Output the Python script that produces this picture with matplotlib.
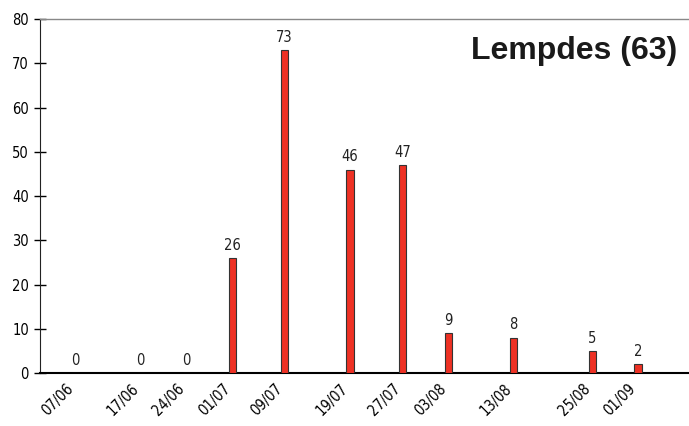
import numpy as np
import pandas as pd
import matplotlib.pyplot as plt

plt.rcParams['font.family'] = ['DejaVu Sans']
plt.rcParams['font.stretch'] = 'condensed'

# Données : relevés Lempdes (63)
dates  = ['2003-06-07', '2003-06-17', '2003-06-24', '2003-07-01', '2003-07-09', '2003-07-19',
          '2003-07-27', '2003-08-03', '2003-08-13', '2003-08-25', '2003-09-01']
values = [0, 0, 0, 26, 73, 46, 47, 9, 8, 5, 2]
labels = ['07/06', '17/06', '24/06', '01/07', '09/07', '19/07',
          '27/07', '03/08', '13/08', '25/08', '01/09']
title  = 'Lempdes (63)'

x = pd.to_datetime(dates)

fig = plt.figure(figsize=(6.89, 4.26), dpi=100)
ax = fig.add_axes([0.058, 0.1244, 0.942, 0.8306])

ax.bar(x, values, width=1.1, color='#ee3124', edgecolor='#333333', linewidth=0.8, zorder=3)
for xi, v in zip(x, values):
    ax.text(xi, v + 1.2, str(v), ha='center', va='bottom', fontsize=10.5, color='#222222')

ax.set_xlim(pd.Timestamp('2003-06-01 15:00'), pd.Timestamp('2003-09-08 19:00'))
ax.set_ylim(0, 80)
ax.set_yticks(np.arange(0, 81, 10))
# étiquettes légèrement décalées à gauche des barres, comme l'original
ax.set_xticks(x - pd.Timedelta(hours=36))
ax.set_xticklabels(labels, rotation=45, ha='right', rotation_mode='anchor', fontsize=10.5)
ax.tick_params(axis='x', length=0, pad=6)
ax.tick_params(axis='y', direction='inout', length=8, width=1, labelsize=10.5, pad=4)

ax.spines['right'].set_visible(False)
ax.spines['top'].set_color('#888888')
ax.spines['top'].set_linewidth(1)
ax.spines['left'].set_color('#222222')
ax.spines['bottom'].set_color('#000000')
ax.spines['bottom'].set_linewidth(1.5)

ax.text(0.982, 0.91, title, transform=ax.transAxes, ha='right', va='center',
        fontsize=23, fontweight='bold', fontstretch='normal',
        family=['Liberation Sans', 'DejaVu Sans'], color='#1a1a1a')

plt.savefig('out.png', dpi=100)
